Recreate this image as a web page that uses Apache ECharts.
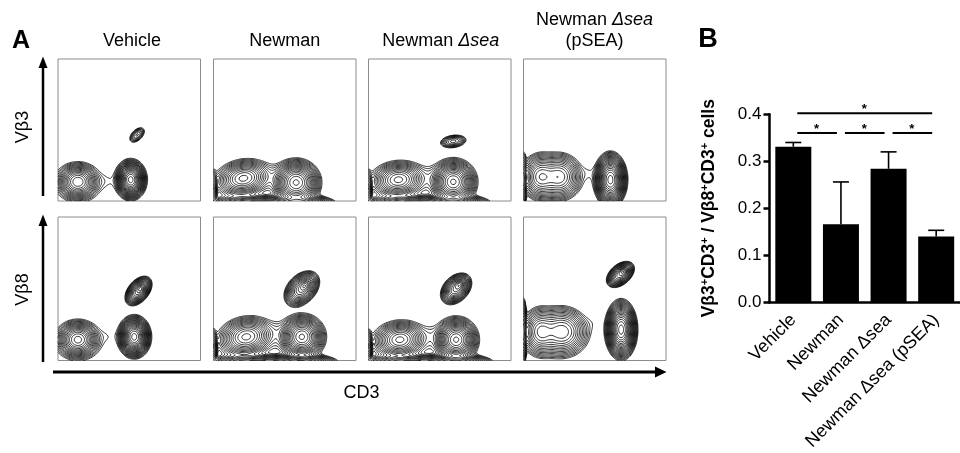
<!DOCTYPE html>
<html><head><meta charset="utf-8">
<script src="https://cdn.jsdelivr.net/npm/echarts@6/dist/echarts.min.js"></script>
<style>html,body{margin:0;padding:0;background:#fff}#c{width:960px;height:453px}</style>
</head><body><div id="c"></div>
<script>
const FONT = "'Liberation Sans', Arial, Helvetica, sans-serif";

// ---------- Panel A: flow cytometry contour plots ----------
const columnTitles = ['Vehicle', 'Newman', 'Newman {i|Δsea}', 'Newman {i|Δsea}\n(pSEA)'];
const rowLabels = ['Vβ3', 'Vβ8'];
const panelAxisLabel = 'CD3';
// populations: [centerX, centerY, spreadX, spreadY, tiltDeg, peak] (0..1 box units)
const popVehicleVb3 = [
  [0.14, 0.135, 0.052, 0.046, 0, 1.2],
  [0.14, 0.13, 0.11, 0.085, 0, 0.07],
  [0.51, 0.15, 0.033, 0.043, 0, 5.0],
  [0.51, 0.15, 0.07, 0.085, 0, 0.07],
  [0.555, 0.465, 0.033, 0.019, 45, 0.15],
  [0.33, 0.14, 0.05, 0.04, 0, 0.012]
];
const popNewmanVb3 = [
  [0.21, 0.16, 0.07, 0.046, 10, 0.8],
  [0.21, 0.15, 0.13, 0.085, 10, 0.07],
  [0.58, 0.13, 0.056, 0.054, 0, 2.2],
  [0.58, 0.13, 0.10, 0.095, 0, 0.07],
  [0.41, 0.17, 0.045, 0.05, 0, 0.012],
  [0.0, 0.10, 0.012, 0.05, 0, 0.3],
  [0.30, -0.02, 0.15, 0.025, 0, 0.4],
  [0.60, -0.02, 0.10, 0.025, 0, 0.8]
];
const popDseaVb3 = [
  [0.21, 0.15, 0.068, 0.046, 5, 0.8],
  [0.21, 0.14, 0.13, 0.085, 5, 0.07],
  [0.595, 0.135, 0.053, 0.053, 0, 2.2],
  [0.595, 0.135, 0.10, 0.095, 0, 0.07],
  [0.595, 0.42, 0.044, 0.021, 8, 0.2],
  [0.42, 0.17, 0.045, 0.05, 0, 0.012],
  [0.0, 0.10, 0.012, 0.05, 0, 0.3],
  [0.30, -0.02, 0.15, 0.025, 0, 0.4],
  [0.60, -0.02, 0.10, 0.025, 0, 0.8]
];
const popPseaVb3 = [
  [0.12, 0.17, 0.05, 0.062, 0, 0.7],
  [0.25, 0.17, 0.06, 0.062, 0, 0.7],
  [0.19, 0.17, 0.13, 0.095, 0, 0.07],
  [0.61, 0.15, 0.035, 0.06, 0, 5.0],
  [0.61, 0.15, 0.07, 0.10, 0, 0.07],
  [0.45, 0.20, 0.04, 0.04, 0, 0.012],
  [0.0, 0.15, 0.01, 0.08, 0, 0.4]
];
const popVehicleVb8 = [
  [0.14, 0.145, 0.052, 0.046, 0, 1.4],
  [0.14, 0.14, 0.11, 0.085, 0, 0.07],
  [0.535, 0.165, 0.035, 0.045, 0, 5.0],
  [0.535, 0.165, 0.07, 0.085, 0, 0.07],
  [0.565, 0.485, 0.044, 0.027, 50, 1.0],
  [0.58, 0.50, 0.016, 0.012, 50, 0.6],
  [0.35, 0.17, 0.05, 0.04, 0, 0.012]
];
const popNewmanVb8 = [
  [0.23, 0.165, 0.07, 0.049, 10, 0.8],
  [0.23, 0.155, 0.13, 0.09, 10, 0.07],
  [0.62, 0.165, 0.053, 0.051, 0, 2.2],
  [0.62, 0.165, 0.10, 0.095, 0, 0.07],
  [0.62, 0.50, 0.055, 0.037, 45, 0.9],
  [0.64, 0.52, 0.02, 0.015, 45, 0.6],
  [0.43, 0.20, 0.045, 0.05, 0, 0.012],
  [0.0, 0.10, 0.012, 0.05, 0, 0.3],
  [0.30, -0.02, 0.15, 0.025, 0, 0.4],
  [0.62, -0.02, 0.10, 0.025, 0, 0.8]
];
const popDseaVb8 = [
  [0.22, 0.145, 0.065, 0.046, 5, 0.8],
  [0.22, 0.14, 0.125, 0.085, 5, 0.07],
  [0.615, 0.145, 0.05, 0.051, 0, 2.2],
  [0.615, 0.145, 0.095, 0.095, 0, 0.07],
  [0.615, 0.50, 0.048, 0.033, 45, 0.9],
  [0.635, 0.525, 0.018, 0.014, 45, 0.6],
  [0.43, 0.18, 0.045, 0.05, 0, 0.012],
  [0.0, 0.10, 0.012, 0.05, 0, 0.3],
  [0.30, -0.02, 0.15, 0.025, 0, 0.4],
  [0.62, -0.02, 0.10, 0.025, 0, 0.8]
];
const popPseaVb8 = [
  [0.12, 0.20, 0.05, 0.066, 0, 0.6],
  [0.27, 0.20, 0.07, 0.066, 0, 0.7],
  [0.21, 0.19, 0.14, 0.10, 0, 0.07],
  [0.685, 0.215, 0.034, 0.064, 0, 5.0],
  [0.685, 0.215, 0.065, 0.11, 0, 0.07],
  [0.68, 0.60, 0.042, 0.026, 40, 1.0],
  [0.70, 0.62, 0.016, 0.012, 40, 0.6],
  [0.49, 0.27, 0.04, 0.05, 0, 0.012],
  [0.0, 0.20, 0.01, 0.10, 0, 0.4]
];
const panelPops = [popVehicleVb3, popNewmanVb3, popDseaVb3, popPseaVb3,
                   popVehicleVb8, popNewmanVb8, popDseaVb8, popPseaVb8];
const contourBase = 0.025, contourRatio = 1.28;

// ---------- Panel B: bar chart ----------
const barCategories = ['Vehicle', 'Newman', 'Newman Δsea', 'Newman Δsea (pSEA)'];
const barMeans = [0.331, 0.166, 0.284, 0.140];
const barErrors = [0.009, 0.090, 0.036, 0.013];
const sigPairs = [[0, 3], [0, 1], [1, 2], [2, 3]];
const sigHeights = [0.402, 0.36, 0.36, 0.36];
const sigMarks = ['*', '*', '*', '*'];

// ---------- contour computation (marching squares over the population density) ----------
function density(pops, x, y) {
  let s = 0;
  for (const p of pops) {
    const t = p[4] * Math.PI / 180, c = Math.cos(t), sn = Math.sin(t);
    const dx = x - p[0], dy = y - p[1];
    const u = dx * c + dy * sn, v = -dx * sn + dy * c;
    s += p[5] * Math.exp(-0.5 * (u * u / (p[2] * p[2]) + v * v / (p[3] * p[3])));
  }
  return s;
}
function contours(pops) {
  const N = 130, f = [];
  let mx = 0;
  for (let j = 0; j <= N; j++) {
    const row = [];
    for (let i = 0; i <= N; i++) { const v = density(pops, i / N, j / N); row.push(v); if (v > mx) mx = v; }
    f.push(row);
  }
  const levels = [];
  for (let L = contourBase; L < mx; L *= contourRatio) levels.push(L);
  const segs = [];
  for (const L of levels) {
    for (let j = 0; j < N; j++) for (let i = 0; i < N; i++) {
      const v0 = f[j][i], v1 = f[j][i + 1], v2 = f[j + 1][i + 1], v3 = f[j + 1][i];
      const k = (v0 >= L ? 1 : 0) | (v1 >= L ? 2 : 0) | (v2 >= L ? 4 : 0) | (v3 >= L ? 8 : 0);
      if (k === 0 || k === 15) continue;
      const x0 = i / N, x1 = (i + 1) / N, y0 = j / N, y1 = (j + 1) / N;
      const E = [
        () => [x0 + (L - v0) / (v1 - v0) * (x1 - x0), y0],
        () => [x1, y0 + (L - v1) / (v2 - v1) * (y1 - y0)],
        () => [x1 - (L - v2) / (v3 - v2) * (x1 - x0), y1],
        () => [x0, y1 - (L - v3) / (v0 - v3) * (y1 - y0)]
      ];
      const center = (v0 + v1 + v2 + v3) / 4 >= L;
      let pairs;
      switch (k) {
        case 1: case 14: pairs = [[3, 0]]; break;
        case 2: case 13: pairs = [[0, 1]]; break;
        case 3: case 12: pairs = [[3, 1]]; break;
        case 4: case 11: pairs = [[1, 2]]; break;
        case 6: case 9: pairs = [[0, 2]]; break;
        case 7: case 8: pairs = [[3, 2]]; break;
        case 5: pairs = center ? [[0, 1], [2, 3]] : [[3, 0], [1, 2]]; break;
        case 10: pairs = center ? [[3, 0], [1, 2]] : [[0, 1], [2, 3]]; break;
      }
      for (const pr of pairs) segs.push({ coords: [E[pr[0]](), E[pr[1]]()] });
    }
  }
  return segs;
}

// ---------- layout ----------
const boxLefts = [58, 213.5, 368.5, 523.5], boxTops = [59, 217], boxW = 142.5, boxHs = [142, 143.5];
const grids = [], xAxes = [], yAxes = [], series = [];
for (let p = 0; p < 8; p++) {
  const r = Math.floor(p / 4), c = p % 4;
  grids.push({ left: boxLefts[c], top: boxTops[r], width: boxW, height: boxHs[r], show: true,
    borderColor: '#8c8c8c', borderWidth: 1, backgroundColor: 'transparent' });
  xAxes.push({ type: 'value', gridIndex: p, min: 0, max: 1, show: false });
  yAxes.push({ type: 'value', gridIndex: p, min: 0, max: 1, show: false });
  series.push({ type: 'lines', coordinateSystem: 'cartesian2d', xAxisIndex: p, yAxisIndex: p,
    polyline: false, large: true, largeThreshold: 50, silent: true,
    lineStyle: { color: '#000', width: 0.8, opacity: 1 }, data: contours(panelPops[p]) });
}
// bar chart grid
grids.push({ left: 769.5, top: 114.3, width: 200, height: 189 });
xAxes.push({ type: 'category', gridIndex: 8, data: barCategories,
  axisLine: { onZero: false, lineStyle: { color: '#000', width: 2.5 } },
  axisTick: { alignWithLabel: true, length: 6, lineStyle: { color: '#000', width: 2.5 } },
  axisLabel: { rotate: 45, interval: 0, margin: 15, color: '#000', fontSize: 18, fontFamily: FONT } });
xAxes.push({ type: 'value', gridIndex: 8, min: -0.5, max: 3.5, show: false, axisLine: { onZero: false } });
yAxes.push({ type: 'value', gridIndex: 8, min: 0, max: 0.4, interval: 0.1,
  axisLine: { show: true, onZero: false, lineStyle: { color: '#000', width: 2.5 } },
  axisTick: { show: true, length: 6, lineStyle: { color: '#000', width: 2.5 } },
  splitLine: { show: false },
  axisLabel: { margin: 8, color: '#000', fontSize: 17, fontFamily: FONT, formatter: v => v.toFixed(1) },
  name: '{b|Vβ3}{s|+}{b|CD3}{s|+}{b| / Vβ8}{s|+}{b|CD3}{s|+}{b| cells}',
  nameLocation: 'middle', nameRotate: 90, nameGap: 50,
  nameTextStyle: { rich: {
    b: { fontSize: 17.5, fontWeight: 'bold', fontFamily: FONT, color: '#000', lineHeight: 20 },
    s: { fontSize: 11, fontWeight: 'bold', fontFamily: FONT, color: '#000', verticalAlign: 'top', lineHeight: 20 } } } });

series.push({ type: 'bar', xAxisIndex: 8, yAxisIndex: 8, data: barMeans, barWidth: 36,
  itemStyle: { color: '#000' }, silent: true });
// error bars (upper only)
series.push({ type: 'custom', xAxisIndex: 8, yAxisIndex: 8, silent: true, clip: false, z: 3,
  data: barMeans.map((m, i) => [i, m, barErrors[i]]),
  renderItem: (params, api) => {
    const i = api.value(0), m = api.value(1), e = api.value(2);
    const a = api.coord([i, m]), b = api.coord([i, m + e]);
    const st = { stroke: '#000', lineWidth: 1.6 };
    return { type: 'group', children: [
      { type: 'line', shape: { x1: a[0], y1: a[1], x2: b[0], y2: b[1] }, style: st },
      { type: 'line', shape: { x1: b[0] - 8, y1: b[1], x2: b[0] + 8, y2: b[1] }, style: st } ] };
  } });
// significance brackets
series.push({ type: 'custom', xAxisIndex: 9, yAxisIndex: 8, silent: true, clip: false, z: 3,
  data: sigPairs.map((pr, k) => [pr[0], pr[1], sigHeights[k], k]),
  renderItem: (params, api) => {
    const f = api.value(0), t = api.value(1), h = api.value(2), k = api.value(3);
    const a = api.coord([f, h]), b = api.coord([t, h]);
    const inset = 4;
    const mid = (a[0] + b[0]) / 2 - 0.5;
    return { type: 'group', children: [
      { type: 'line', shape: { x1: a[0] + inset, y1: a[1], x2: b[0] - inset, y2: b[1] }, style: { stroke: '#000', lineWidth: 2 } },
      { type: 'text', style: { text: sigMarks[k], x: mid, y: a[1] + 3, fill: '#000', fontSize: 13, fontWeight: 'bold',
        fontFamily: FONT, align: 'center', verticalAlign: 'bottom' } } ] };
  } });

// ---------- annotations ----------
function txt(text, x, y, size, opts) {
  return Object.assign({ type: 'text', x: x, y: y, silent: true,
    style: Object.assign({ text: text, x: 0, y: 0, fill: '#000', fontSize: size, fontFamily: FONT,
      align: 'center', verticalAlign: 'middle', textAlign: 'center', textVerticalAlign: 'middle' }, (opts && opts.style) || {}) },
    (opts && opts.el) || {});
}
const italicRich = { i: { fontStyle: 'italic', fontSize: 18, fontFamily: FONT, fill: '#000' } };
const graphic = [
  txt('A', 21, 41, 25, { style: { fontWeight: 'bold' } }),
  txt('B', 708, 40, 27, { style: { fontWeight: 'bold' } }),
  txt(columnTitles[0], 132, 41, 18),
  txt(columnTitles[1], 284.7, 41, 18),
  txt(columnTitles[2], 440.7, 41, 18, { style: { rich: italicRich } }),
  txt(columnTitles[3], 594.5, 30.5, 18, { style: { rich: italicRich, lineHeight: 21 } }),
  txt(rowLabels[0], 23.5, 127, 18, { el: { rotation: Math.PI / 2 } }),
  txt(rowLabels[1], 23.5, 289.5, 18, { el: { rotation: Math.PI / 2 } }),
  txt(panelAxisLabel, 361.5, 393, 18),
  { type: 'line', silent: true, shape: { x1: 43, y1: 196, x2: 43, y2: 66 }, style: { stroke: '#000', lineWidth: 2.5 } },
  { type: 'polygon', silent: true, shape: { points: [[43, 56.5], [38.5, 68], [47.5, 68]] }, style: { fill: '#000' } },
  { type: 'line', silent: true, shape: { x1: 43, y1: 362, x2: 43, y2: 224 }, style: { stroke: '#000', lineWidth: 2.5 } },
  { type: 'polygon', silent: true, shape: { points: [[43, 214.5], [38.5, 226], [47.5, 226]] }, style: { fill: '#000' } },
  { type: 'line', silent: true, shape: { x1: 53, y1: 372, x2: 657, y2: 372 }, style: { stroke: '#000', lineWidth: 3 } },
  { type: 'polygon', silent: true, shape: { points: [[666.5, 372], [655, 366.5], [655, 377.5]] }, style: { fill: '#000' } }
];

const chart = echarts.init(document.getElementById('c'), null, { renderer: 'canvas' });
chart.setOption({ animation: false, backgroundColor: '#fff', textStyle: { fontFamily: FONT },
  grid: grids, xAxis: xAxes, yAxis: yAxes, series: series, graphic: graphic });
</script></body></html>
